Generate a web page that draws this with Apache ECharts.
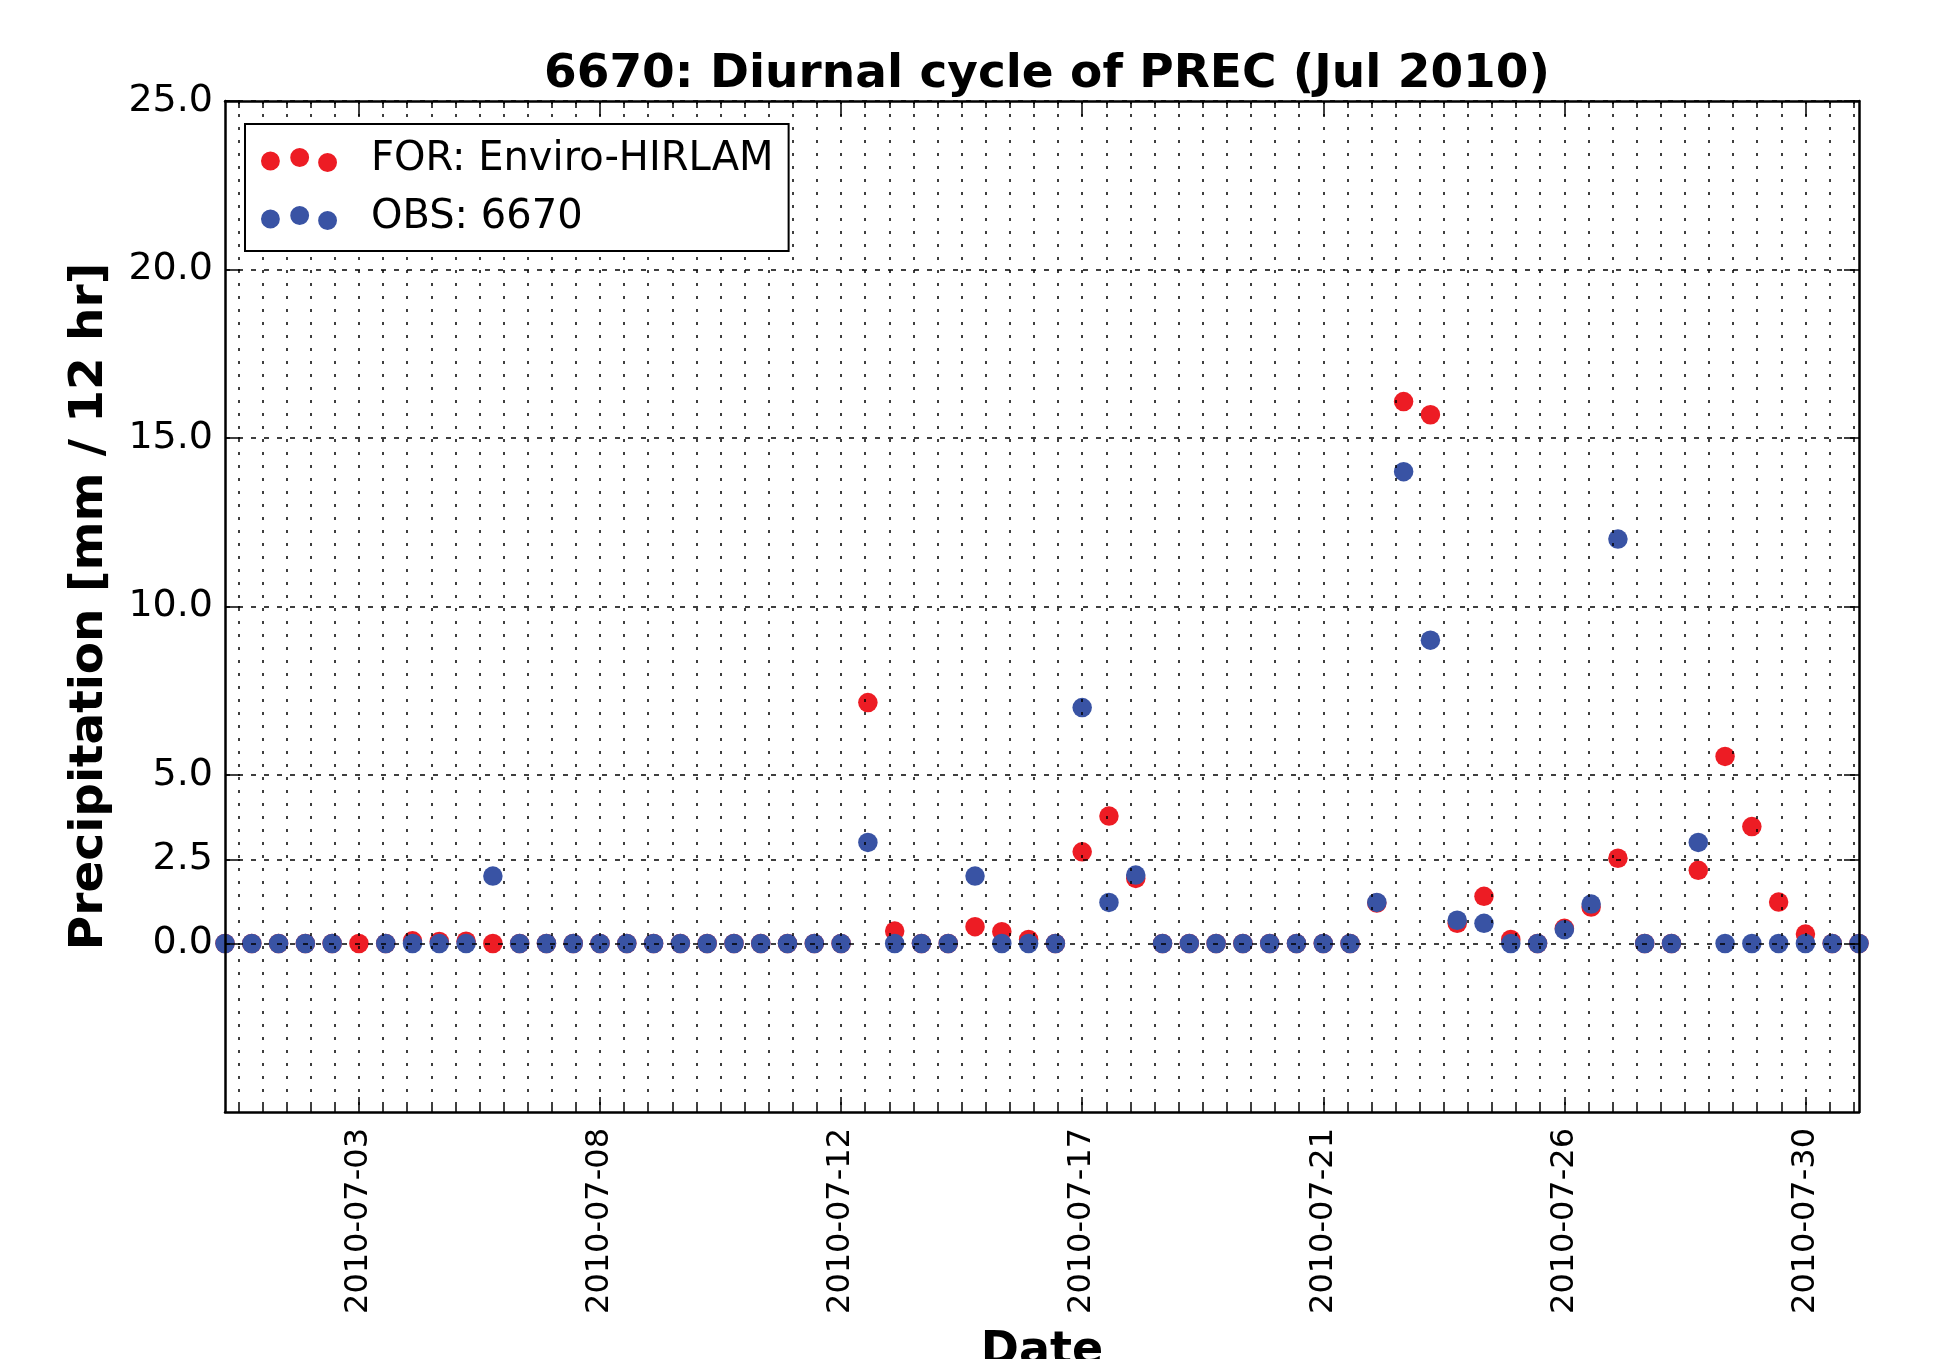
<!DOCTYPE html>
<html>
<head>
<meta charset="utf-8">
<script src="https://cdn.jsdelivr.net/npm/echarts@6/dist/echarts.min.js"></script>
<style>
	html, body { margin: 0; padding: 0; background: #fff; }
	#chart { width: 1939px; height: 1359px; }
</style>
</head>
<body>
<div id="chart"></div>
<script>
// 12-hourly steps from 2010-07-01 00:00, index 0..61
const forValues = [
	0, 0, 0, 0, 0, 0, 0, 0.08, 0.06, 0.07,
	0, 0, 0, 0, 0, 0, 0, 0, 0, 0,
	0, 0, 0, 0, 7.15, 0.37, 0, 0, 0.5, 0.35,
	0.12, 0, 2.72, 3.78, 1.93, 0, 0, 0, 0, 0,
	0, 0, 0, 1.2, 16.08, 15.69, 0.6, 1.4, 0.12, 0,
	0.45, 1.08, 2.53, 0, 0, 2.17, 5.55, 3.47, 1.23, 0.28,
	0, 0
]
const obsValues = [
	0, 0, 0, 0, 0, null, 0, 0, 0, 0,
	2.0, 0, 0, 0, 0, 0, 0, 0, 0, 0,
	0, 0, 0, 0, 3.0, 0, 0, 0, 2.0, 0,
	0, 0, 7.0, 1.22, 2.03, 0, 0, 0, 0, 0,
	0, 0, 0, 1.22, 14.0, 9.0, 0.69, 0.6, 0, 0,
	0.41, 1.17, 12.0, 0, 0, 3.0, 0, 0, 0, 0,
	0, 0
]
// 刻度
const tickIndex = [5, 14, 23, 32, 41, 50, 59]
const tickLabels = ['2010-07-03', '2010-07-08', '2010-07-12', '2010-07-17', '2010-07-21', '2010-07-26', '2010-07-30']
const yTicks = [0, 2.5, 5, 10, 15, 20, 25]

// 次刻度，每个主刻度之间10格
const minorTicks = []
for (let k = 0; 0.5 + 0.9 * k < 61; k++) {
	minorTicks.push(+(0.5 + 0.9 * k).toFixed(2))
}

const RED = '#ed1c24'
const BLUE = '#3953a4'
const FONT = 'DejaVu Sans'

const dotsIcon = 'path://M0,12.6a9.2,9.2 0 1,0 18.4,0a9.2,9.2 0 1,0 -18.4,0Z' +
	'M28.5,9.2a9.2,9.2 0 1,0 18.4,0a9.2,9.2 0 1,0 -18.4,0Z' +
	'M55.7,14.1a9.2,9.2 0 1,0 18.4,0a9.2,9.2 0 1,0 -18.4,0Z'

function toPairs(values) {
	return values.map((v, i) => [i, v === null ? '-' : v])
}

const frame = { show: true, onZero: false, lineStyle: { color: '#000', width: 2.5 } }

function xAxisBase(position) {
	return {
		type: 'value', position: position, min: 0, max: 61, z: 10,
		axisLine: frame,
		axisLabel: { show: false },
		splitLine: { show: false },
	}
}

const chart = echarts.init(document.getElementById('chart'))
chart.setOption({
	animation: false,
	backgroundColor: '#fff',
	textStyle: { fontFamily: FONT },
	title: {
		text: '6670: Diurnal cycle of PREC (Jul 2010)',
		left: 539, top: 46,
		textStyle: { fontFamily: FONT, fontSize: 47, fontWeight: 'bold', color: '#000' }
	},
	grid: { left: 225, right: 80, top: 101, bottom: 247, outerBoundsMode: 'none', containLabel: false },
	legend: {
		orient: 'vertical',
		left: 245, top: 124,
		padding: [16, 15, 13, 16],
		itemGap: 18,
		itemWidth: 76, itemHeight: 24,
		backgroundColor: '#fff',
		borderColor: '#000', borderWidth: 2, borderRadius: 0,
		z: 20,
		textStyle: { fontFamily: FONT, fontSize: 40, color: '#000', lineHeight: 24, padding: [0, 0, 0, 29] },
		data: [
			{ name: 'FOR: Enviro-HIRLAM', icon: dotsIcon, itemStyle: { color: RED } },
			{ name: 'OBS: 6670', icon: dotsIcon, itemStyle: { color: BLUE } },
		]
	},
	xAxis: [
		Object.assign(xAxisBase('bottom'), {
			axisTick: { show: true, inside: true, length: 7, customValues: minorTicks, lineStyle: { color: '#000', width: 1.5 } },
			splitLine: { show: true, lineStyle: { color: '#000', width: 1.5, type: [3, 10] } },
		}),
		Object.assign(xAxisBase('bottom'), {
			axisLine: { show: false, onZero: false },
			axisTick: { show: true, inside: true, length: 15, customValues: tickIndex, lineStyle: { color: '#000', width: 1.5 } },
			axisLabel: {
				show: true, customValues: tickIndex, rotate: 90, margin: 16,
				fontFamily: FONT, fontSize: 32, color: '#000',
				formatter: (v) => tickLabels[tickIndex.indexOf(Math.round(v))]
			},
			name: 'Date', nameLocation: 'middle', nameGap: 217,
			nameTextStyle: { fontFamily: FONT, fontSize: 46, fontWeight: 'bold', color: '#000' }
		}),
		Object.assign(xAxisBase('top'), {
			axisTick: { show: true, inside: true, length: 7, customValues: minorTicks, lineStyle: { color: '#000', width: 1.5 } },
		}),
		Object.assign(xAxisBase('top'), {
			axisLine: { show: false, onZero: false },
			axisTick: { show: true, inside: true, length: 15, customValues: tickIndex, lineStyle: { color: '#000', width: 1.5 } },
		}),
	],
	yAxis: [
		{
			type: 'value', position: 'left', min: -5, max: 25, z: 10,
			axisLine: frame,
			axisTick: { show: true, inside: true, length: 15, customValues: yTicks, lineStyle: { color: '#000', width: 1.5 } },
			axisLabel: {
				show: true, customValues: yTicks, margin: 12,
				fontFamily: FONT, fontSize: 38, color: '#000',
				formatter: (v) => v.toFixed(1)
			},
			splitLine: { show: true, lineStyle: { color: '#000', width: 1.5, type: [5, 8] } },
			name: 'Precipitation [mm / 12 hr]', nameLocation: 'middle', nameGap: 112, nameRotate: 90,
			nameTextStyle: { fontFamily: FONT, fontSize: 47, fontWeight: 'bold', color: '#000' }
		},
		{
			type: 'value', position: 'right', min: -5, max: 25, z: 10,
			axisLine: frame,
			axisTick: { show: true, inside: true, length: 15, customValues: yTicks, lineStyle: { color: '#000', width: 1.5 } },
			axisLabel: { show: false },
			splitLine: { show: false },
		}
	],
	series: [
		{
			name: 'FOR: Enviro-HIRLAM', type: 'scatter',
			xAxisIndex: 0, yAxisIndex: 0,
			symbol: 'circle', symbolSize: 19.5,
			itemStyle: { color: RED, opacity: 1 },
			data: toPairs(forValues),
		},
		{
			name: 'OBS: 6670', type: 'scatter',
			xAxisIndex: 0, yAxisIndex: 0,
			symbol: 'circle', symbolSize: 19.5,
			itemStyle: { color: BLUE, opacity: 1 },
			data: toPairs(obsValues),
		}
	]
})
</script>
</body>
</html>
